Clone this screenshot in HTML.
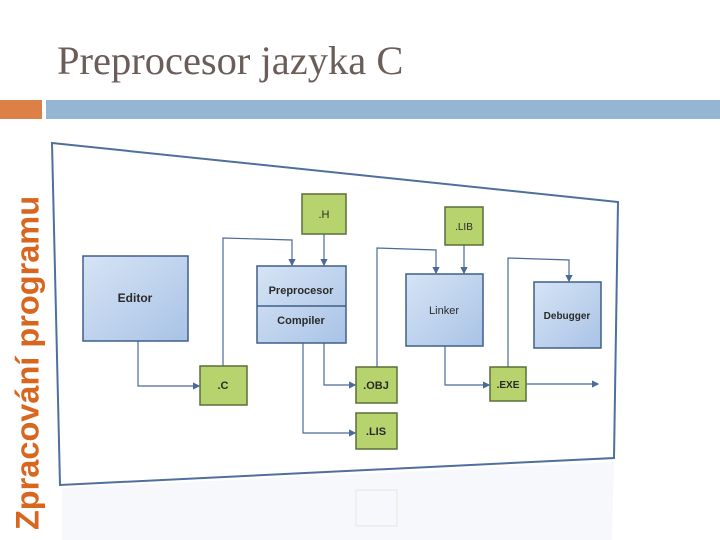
<!DOCTYPE html>
<html><head><meta charset="utf-8"><style>
body{margin:0;width:720px;height:540px;background:#fff;overflow:hidden;position:relative;font-family:"Liberation Sans",sans-serif}
.title{position:absolute;left:57px;top:37px;font-family:"Liberation Serif",serif;font-size:40.5px;color:#6b5e58;white-space:nowrap}
.vt{position:absolute;left:28px;top:363px;transform:translate(-50%,-50%) rotate(-90deg);font-size:32.5px;font-weight:bold;color:#d9661f;white-space:nowrap}
</style></head><body>
<div class="title">Preprocesor jazyka C</div>
<div style="position:absolute;left:0;top:100px;width:42px;height:19px;background:#dd8047"></div>
<div style="position:absolute;left:46px;top:100px;width:674px;height:19px;background:#94b6d2"></div>
<div class="vt">Zpracování programu</div>
<svg width="720" height="540" style="position:absolute;left:0;top:0">
<defs>
<linearGradient id="b" x1="0" y1="0" x2="1" y2="1"><stop offset="0" stop-color="#d6e4f5"/><stop offset="1" stop-color="#a9c3e6"/></linearGradient>
<marker id="a" markerWidth="6" markerHeight="6" refX="5" refY="3" orient="auto"><path d="M0,0L6,3L0,6z" fill="#4a6a9a"/></marker>
</defs>
<polygon points="52,143 618,202 614,458 60,485" fill="#fff" stroke="#4f6f9f" stroke-width="2"/>
<polygon points="62,488 614,462 612,540 62,540" fill="#f6f8fb"/>
<g stroke="#4a6a9a" stroke-width="1.2" fill="none" marker-end="url(#a)">
<polyline points="138,341 138,386 199,386"/>
<polyline points="223,366 223,238 292,240 292,265"/>
<polyline points="324,234 324,265"/>
<polyline points="324,343 324,385 355,385"/>
<polyline points="303,343 303,433 355,433"/>
<polyline points="377,367 377,248 436,250 436,273"/>
<polyline points="464,245 464,273"/>
<polyline points="445,346 445,385 489,385"/>
<polyline points="508,367 508,258 569,260 569,281"/>
<polyline points="526,384 598,384"/>
</g>
<g stroke="#3f5f8a" stroke-width="1.5" fill="url(#b)">
<rect x="83" y="256" width="105" height="85"/>
<rect x="257" y="266" width="89" height="77"/>
<rect x="406" y="274" width="77" height="72"/>
<rect x="534" y="282" width="67" height="66"/>
</g>
<line x1="257" y1="306" x2="346" y2="306" stroke="#3f5f8a" stroke-width="1.5"/>
<g stroke="#5b6e3a" stroke-width="1.5" fill="#b7d36e">
<rect x="302" y="194" width="44" height="40"/>
<rect x="200" y="366" width="47" height="39"/>
<rect x="356" y="367" width="41" height="36"/>
<rect x="356" y="413" width="41" height="36"/>
<rect x="445" y="207" width="38" height="38"/>
<rect x="490" y="367" width="36" height="34"/>
</g>
<g font-family="Liberation Sans,sans-serif" font-size="12" fill="#2a2a2a" text-anchor="middle" font-weight="bold">
<text x="135" y="302">Editor</text>
<text x="301" y="294" font-size="11">Preprocesor</text>
<text x="301" y="324" font-size="11">Compiler</text>
<text x="444" y="314" font-size="11" font-weight="normal">Linker</text>
<text x="567" y="319" font-size="10">Debugger</text>
<text x="324" y="218" font-size="11" font-weight="normal">.H</text>
<text x="223" y="389" font-size="11">.C</text>
<text x="376" y="389" font-size="11">.OBJ</text>
<text x="376" y="435" font-size="11">.LIS</text>
<text x="464" y="230" font-size="10" font-weight="normal">.LIB</text>
<text x="508" y="388" font-size="10">.EXE</text>
</g>
<rect x="356" y="490" width="41" height="36" fill="none" stroke="#e4e8dc"/>
</svg>
</body></html>
